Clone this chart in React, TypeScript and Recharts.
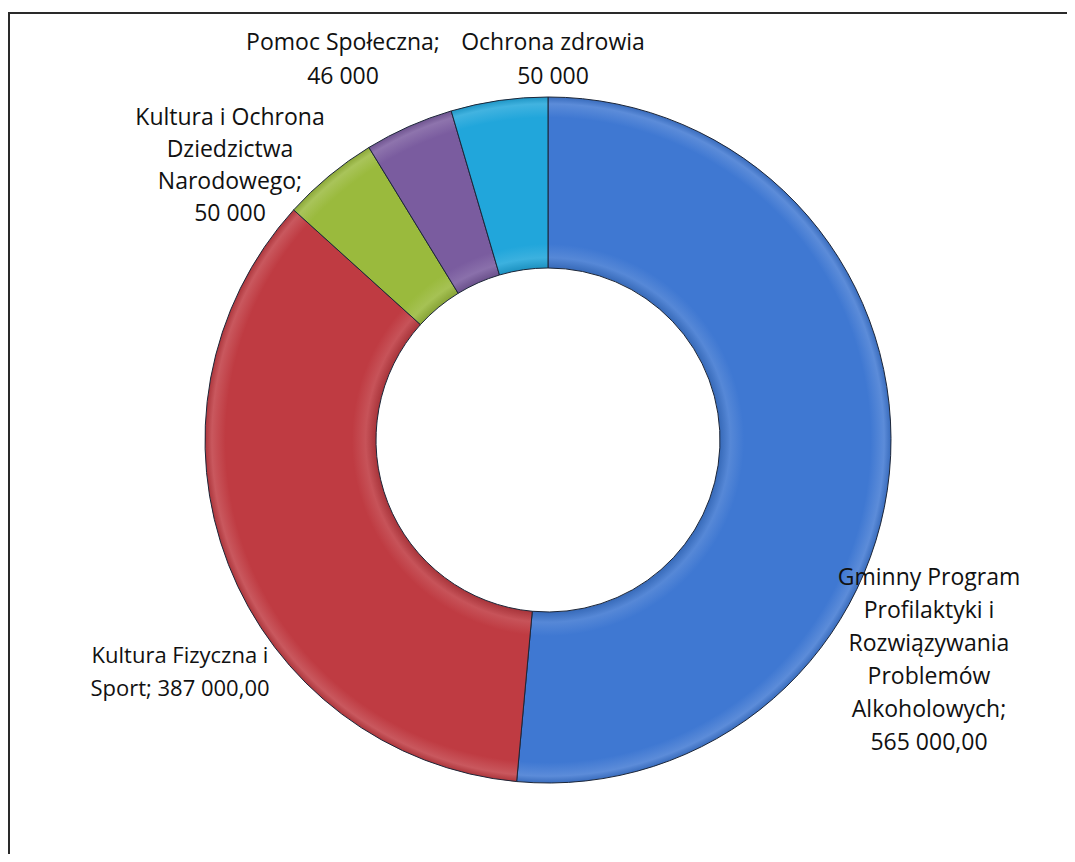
import React from "react";
import { PieChart, Pie, Cell } from "recharts";

// ---- data ----
const categories = [
  "Gminny Program Profilaktyki i Rozwiązywania Problemów Alkoholowych",
  "Kultura Fizyczna i Sport",
  "Kultura i Ochrona Dziedzictwa Narodowego",
  "Pomoc Społeczna",
  "Ochrona zdrowia",
];
const values = [565000, 387000, 50000, 46000, 50000];
const labelLines = [
  ["Gminny Program", "Profilaktyki i", "Rozwiązywania", "Problemów", "Alkoholowych;", "565 000,00"],
  ["Kultura Fizyczna i", "Sport; 387 000,00"],
  ["Kultura i Ochrona", "Dziedzictwa", "Narodowego;", "50 000"],
  ["Pomoc Społeczna;", "46 000"],
  ["Ochrona zdrowia", "50 000"],
];

// ---- layout / style ----
const W = 1075;
const H = 862;
const CX = 548;
const CY = 440;
const R_IN = 172;
const R_OUT = 343;
const colors = ["#3f78d2", "#bf3b42", "#9aba3d", "#7a5c9f", "#21a6db"];
const labelAnchors = [
  { x: 929, y: 585, dy: 33, size: 23 },
  { x: 180, y: 663, dy: 33, size: 22 },
  { x: 230, y: 125, dy: 32, size: 23 },
  { x: 343, y: 50, dy: 34, size: 23 },
  { x: 553, y: 50, dy: 34, size: 23 },
];
const FONT = "'Open Sans', 'Noto Sans', sans-serif";

const data = categories.map((name, i) => ({ name, value: values[i] }));

function lighten(hex: string, amt: number) {
  const n = parseInt(hex.slice(1), 16);
  const r = (n >> 16) & 255, g = (n >> 8) & 255, b = n & 255;
  const f = (c: number) => Math.round(c + (255 - c) * amt);
  return `rgb(${f(r)},${f(g)},${f(b)})`;
}
function darken(hex: string, amt: number) {
  const n = parseInt(hex.slice(1), 16);
  const r = (n >> 16) & 255, g = (n >> 8) & 255, b = n & 255;
  const f = (c: number) => Math.round(c * (1 - amt));
  return `rgb(${f(r)},${f(g)},${f(b)})`;
}

const renderLabel = (props: any) => {
  const i = props.index;
  const a = labelAnchors[i];
  const lines = labelLines[i];
  return (
    <text
      key={`lbl-${i}`}
      x={a.x}
      y={a.y}
      textAnchor="middle"
      fill="#111"
      fontFamily={FONT}
      fontSize={a.size}
    >
      {lines.map((l, k) => (
        <tspan key={k} x={a.x} y={a.y + k * a.dy}>
          {l}
        </tspan>
      ))}
    </text>
  );
};

export default function App() {
  const ratio = R_IN / R_OUT;
  return (
    <div
      style={{
        margin: -8,
        width: W,
        height: H,
        position: "relative",
        overflow: "hidden",
        background: "#fff",
      }}
    >
      <div
        style={{
          position: "absolute",
          left: 8,
          top: 12,
          width: W,
          height: H,
          borderTop: "2px solid #2a2a2a",
          borderLeft: "2px solid #2a2a2a",
        }}
      />
      <div style={{ position: "absolute", left: 0, top: 0 }}>
        <PieChart width={W} height={H} margin={{ top: 0, right: 0, bottom: 0, left: 0 }}>
          <defs>
            {colors.map((c, i) => (
              <radialGradient
                key={i}
                id={`g${i}`}
                cx={CX}
                cy={CY}
                r={R_OUT}
                gradientUnits="userSpaceOnUse"
              >
                <stop offset={ratio} stopColor={darken(c, 0.12)} />
                <stop offset={ratio + 0.03} stopColor={lighten(c, 0.12)} />
                <stop offset={ratio + 0.07} stopColor={c} />
                <stop offset={0.94} stopColor={c} />
                <stop offset={0.98} stopColor={lighten(c, 0.15)} />
                <stop offset={1} stopColor={darken(c, 0.1)} />
              </radialGradient>
            ))}
          </defs>
          <Pie
            data={data}
            dataKey="value"
            nameKey="name"
            cx={CX}
            cy={CY}
            innerRadius={R_IN}
            outerRadius={R_OUT}
            startAngle={90}
            endAngle={-270}
            stroke="#1c2638"
            strokeWidth={1}
            label={renderLabel}
            labelLine={false}
            isAnimationActive={false}
          >
            {data.map((d, i) => (
              <Cell key={d.name} fill={`url(#g${i})`} />
            ))}
          </Pie>
        </PieChart>
      </div>
    </div>
  );
}
